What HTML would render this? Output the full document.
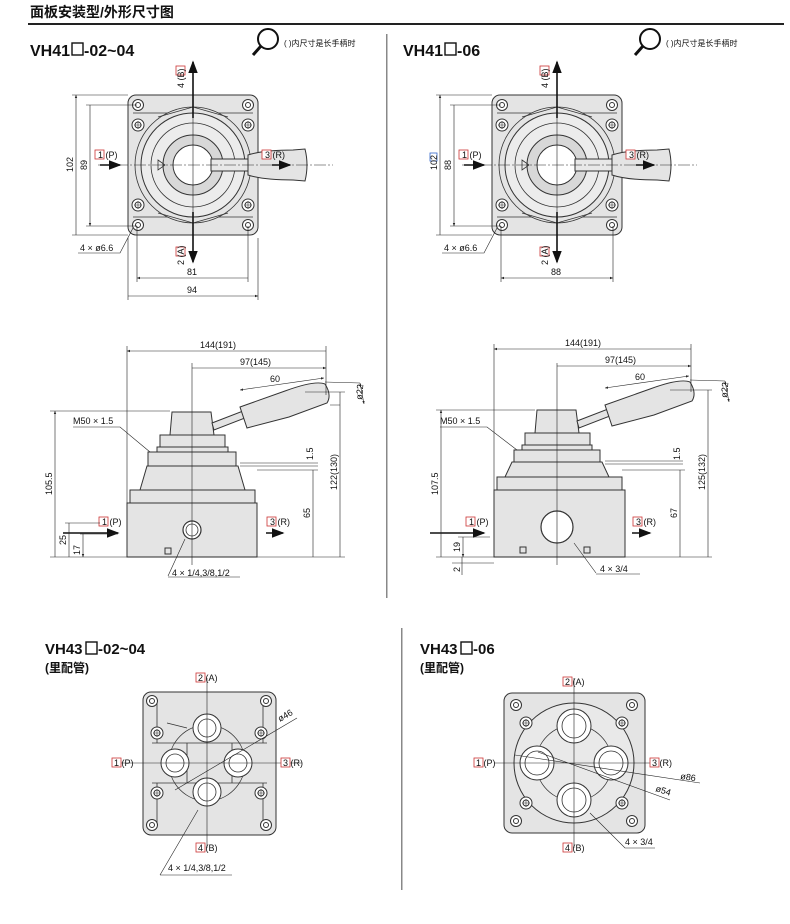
<!DOCTYPE html>
<html><head><meta charset="utf-8"><style>
html,body{margin:0;padding:0;background:#fff}
svg{display:block}
text{font-family:"Liberation Sans","Noto Sans CJK SC",sans-serif;fill:#111}
.b{fill:#e4e4e4;stroke:#333;stroke-width:1}
.l{fill:none;stroke:#333;stroke-width:0.8}
.d{fill:none;stroke:#222;stroke-width:0.6}
.c{fill:none;stroke:#222;stroke-width:0.7}
.s{font-size:9px}
.t{font-size:16px;font-weight:bold}
.bx{fill:#fff;stroke:#c33;stroke-width:0.8}
</style></head><body>
<svg width="790" height="924" viewBox="0 0 790 924" xmlns="http://www.w3.org/2000/svg">
<defs>
<marker id="a" markerWidth="6" markerHeight="6" refX="5" refY="3" orient="auto-start-reverse"><path d="M0,1 L5,3 L0,5z" fill="#222"/></marker>
<marker id="A" markerWidth="8" markerHeight="8" refX="7" refY="4" orient="auto"><path d="M0,1 L8,4 L0,7z" fill="#111"/></marker>
<g id="bolt"><circle r="6" fill="#fff" stroke="#333"/><circle r="3" fill="none" stroke="#333"/><path d="M-4,0H4M0,-4V4" stroke="#333" stroke-width="0.6"/></g>
<g id="hole"><circle r="5.5" fill="#fff" stroke="#333"/><circle r="2.5" fill="none" stroke="#333"/></g>
<g id="top">
 <rect x="-65" y="-70" width="130" height="140" rx="8" class="b"/>
 <path d="M-60,-52 H-25 M25,-52 H60 M-60,52 H-25 M25,52 H60" class="l"/>
 <circle r="58" class="l"/><circle r="52" fill="#ececec" stroke="#333"/>
 <circle r="42" class="l"/><circle r="30" fill="#d8d8d8" stroke="#333"/>
 <circle r="20" fill="#fff" stroke="#333"/>
 <path d="M-35,-48 L0,-58 L35,-48 M-35,48 L0,58 L35,48" class="l"/>
 <use href="#hole" x="-55" y="-60"/><use href="#hole" x="55" y="-60"/><use href="#hole" x="-55" y="60"/><use href="#hole" x="55" y="60"/>
 <use href="#bolt" x="-55" y="-40"/><use href="#bolt" x="55" y="-40"/><use href="#bolt" x="-55" y="40"/><use href="#bolt" x="55" y="40"/>
 <rect x="18" y="-6" width="50" height="12" fill="#e8e8e8" stroke="#333"/>
 <path d="M55,-10 Q70,-15 100,-15 L112,-16 Q116,0 112,16 L100,15 Q70,15 55,10Z" fill="#e4e4e4" stroke="#333"/>
 <path d="M-35,-5 L-28,0 L-35,5Z" class="l"/>
 <path d="M-95,0 H140" class="d" stroke-dasharray="12,2,2,2"/>
 <path d="M0,-100 V95" class="d"/>
</g>
</defs>

<text x="30" y="17" style="font-size:14px;font-weight:bold">面板安装型/外形尺寸图</text>
<rect x="28" y="23" width="756" height="2" fill="#222"/>
<rect x="386" y="34" width="1.5" height="564" fill="#888"/>
<rect x="401" y="628" width="1.5" height="262" fill="#888"/>

<text x="30" y="56" class="t">VH41</text><rect x="72" y="43" width="11" height="12" fill="none" stroke="#111" stroke-width="1.4"/><text x="84" y="56" class="t">-02~04</text>
<text x="403" y="56" class="t">VH41</text><rect x="445" y="43" width="11" height="12" fill="none" stroke="#111" stroke-width="1.4"/><text x="457" y="56" class="t">-06</text>
<text x="45" y="654" class="t" style="font-size:15px">VH43</text><rect x="86" y="642" width="11" height="12" fill="none" stroke="#111" stroke-width="1.4"/><text x="98" y="654" class="t" style="font-size:15px">-02~04</text>
<text x="45" y="672" style="font-size:12px;font-weight:bold">(里配管)</text>
<text x="420" y="654" class="t" style="font-size:15px">VH43</text><rect x="461" y="642" width="11" height="12" fill="none" stroke="#111" stroke-width="1.4"/><text x="473" y="654" class="t" style="font-size:15px">-06</text>
<text x="420" y="672" style="font-size:12px;font-weight:bold">(里配管)</text>

<g><circle cx="268" cy="39" r="10" fill="#fff" stroke="#111" stroke-width="2"/><path d="M261,46 L253,55" stroke="#111" stroke-width="3"/><text x="284" y="46" style="font-size:8px">( )内尺寸是长手柄时</text></g>
<g><circle cx="650" cy="39" r="10" fill="#fff" stroke="#111" stroke-width="2"/><path d="M643,46 L635,55" stroke="#111" stroke-width="3"/><text x="666" y="46" style="font-size:8px">( )内尺寸是长手柄时</text></g>

<use href="#top" x="193" y="165"/>
<path d="M193,118 V62" stroke="#111" stroke-width="1.6" marker-end="url(#A)"/>
<path d="M193,212 V262" stroke="#111" stroke-width="1.6" marker-end="url(#A)"/>
<rect x="176" y="66" width="9" height="9" class="bx"/><text transform="translate(184,88) rotate(-90)" class="s">4 (B)</text>
<rect x="176" y="247" width="9" height="9" class="bx"/><text transform="translate(184,265) rotate(-90)" class="s">2 (A)</text>
<path d="M100,165 H120" stroke="#111" stroke-width="1.6" marker-end="url(#A)"/>
<path d="M272,165 H290" stroke="#111" stroke-width="1.6" marker-end="url(#A)"/>
<rect x="95" y="150" width="9" height="9" class="bx"/><text x="98" y="158" class="s">1 (P)</text>
<rect x="262" y="150" width="9" height="9" class="bx"/><text x="265" y="158" class="s">3 (R)</text>
<path d="M76,95 V235 M90,105 V226" class="d" marker-start="url(#a)" marker-end="url(#a)"/>
<path d="M72,95 H128 M86,105 H137 M72,235 H128 M86,226 H137" class="d"/>
<text transform="translate(73,172) rotate(-90)" class="s">102</text><text transform="translate(87,170) rotate(-90)" class="s">89</text>
<path d="M137,278 H248 M128,296 H258" class="d" marker-start="url(#a)" marker-end="url(#a)"/>
<path d="M137,226 V282 M248,226 V282 M128,238 V300 M258,238 V300" class="d"/>
<text x="187" y="275" class="s">81</text><text x="187" y="293" class="s">94</text>
<path d="M78,253 H120 L133,228" class="d"/><text x="80" y="251" class="s">4 × ø6.6</text>

<use href="#top" x="557" y="165"/>
<path d="M557,118 V62" stroke="#111" stroke-width="1.6" marker-end="url(#A)"/>
<path d="M557,212 V262" stroke="#111" stroke-width="1.6" marker-end="url(#A)"/>
<rect x="540" y="66" width="9" height="9" class="bx"/><text transform="translate(548,88) rotate(-90)" class="s">4 (B)</text>
<rect x="540" y="247" width="9" height="9" class="bx"/><text transform="translate(548,265) rotate(-90)" class="s">2 (A)</text>
<path d="M464,165 H484" stroke="#111" stroke-width="1.6" marker-end="url(#A)"/>
<path d="M636,165 H654" stroke="#111" stroke-width="1.6" marker-end="url(#A)"/>
<rect x="459" y="150" width="9" height="9" class="bx"/><text x="462" y="158" class="s">1 (P)</text>
<rect x="626" y="150" width="9" height="9" class="bx"/><text x="629" y="158" class="s">3 (R)</text>
<path d="M440,95 V235 M454,105 V226" class="d" marker-start="url(#a)" marker-end="url(#a)"/>
<path d="M436,95 H492 M450,105 H501 M436,235 H492 M450,226 H501" class="d"/>
<rect x="430" y="153" width="7" height="8" fill="none" stroke="#36c" stroke-width="0.8"/>
<text transform="translate(437,170) rotate(-90)" class="s">102</text><text transform="translate(451,170) rotate(-90)" class="s">88</text>
<path d="M501,278 H613" class="d" marker-start="url(#a)" marker-end="url(#a)"/>
<path d="M501,226 V282 M613,226 V282" class="d"/>
<text x="551" y="275" class="s">88</text>
<path d="M442,253 H484 L497,228" class="d"/><text x="444" y="251" class="s">4 × ø6.6</text>

<g>
<path d="M127,503 H257 V557 H127Z" class="b"/>
<path d="M130,490 H255 V503 H130Z" class="b"/>
<path d="M140,490 L147,466 H238 L245,490Z" class="b"/>
<path d="M148,452 H236 V466 H148Z" class="b"/>
<path d="M157,447 H228 V452 H157Z" class="b"/>
<path d="M160,435 H225 V447 H160Z" class="b"/>
<path d="M172,412 H211 L214,435 H170Z" class="b"/>
<path d="M212,423 L243,411 L245,418 L214,430Z" class="b"/>
<path d="M240,407 L285,391 Q315,380 325,384 Q332,395 327,403 L289,417 L247,428Z" class="b"/>
<rect x="165" y="548" width="6" height="6" fill="none" stroke="#333"/>
<circle cx="192" cy="530" r="9" fill="#fff" stroke="#333" stroke-width="1.2"/><circle cx="192" cy="530" r="6" class="l"/>
<path d="M192,363 V565" class="d"/>
<path d="M63,533 H118" stroke="#111" stroke-width="1.6" marker-end="url(#A)"/>
<path d="M266,533 H283" stroke="#111" stroke-width="1.6" marker-end="url(#A)"/>
<rect x="99" y="517" width="9" height="9" class="bx"/><text x="102" y="525" class="s">1 (P)</text>
<rect x="267" y="517" width="9" height="9" class="bx"/><text x="270" y="525" class="s">3 (R)</text>
<path d="M127,351 H326 M192,368 H326" class="d" marker-start="url(#a)" marker-end="url(#a)"/>
<path d="M127,346 V503 M326,346 V395" class="d"/>
<text x="200" y="348" class="s">144(191)</text><text x="240" y="365" class="s">97(145)</text>
<path d="M240,390 L324,378" class="d" marker-start="url(#a)" marker-end="url(#a)"/><text x="270" y="382" class="s">60</text>
<path d="M325,382 L360,383 M330,405 L340,405" class="d"/>
<path d="M360,383 L364,404" class="d" marker-start="url(#a)" marker-end="url(#a)"/><text transform="translate(362,400) rotate(-85)" class="s">ø22</text>
<path d="M55,411 V557 M340,392 V557 M313,470 V557 M69,523 V557 M83,534 V557" class="d" marker-start="url(#a)" marker-end="url(#a)"/>
<path d="M50,411 H170 M50,557 H345 M305,392 H345 M257,470 H318 M65,523 H100 M80,534 H118" class="d"/>
<path d="M240,463 H318 M240,466 H318" class="d"/>
<text transform="translate(52,495) rotate(-90)" class="s">105.5</text>
<text transform="translate(337,490) rotate(-90)" class="s">122(130)</text>
<text transform="translate(310,518) rotate(-90)" class="s">65</text>
<text transform="translate(66,545) rotate(-90)" class="s">25</text>
<text transform="translate(80,555) rotate(-90)" class="s">17</text>
<text transform="translate(313,460) rotate(-90)" class="s">1.5</text>
<path d="M73,427 H120 L150,452" class="d"/><text x="73" y="424" class="s">M50 × 1.5</text>
<path d="M168,576 L185,539 M168,577 H240" class="d"/><text x="172" y="576" class="s">4 × 1/4,3/8,1/2</text>
</g>

<g>
<path d="M494,490 H625 V557 H494Z" class="b"/>
<path d="M497,477 H622 V490 H497Z" class="b"/>
<path d="M505,477 L512,462 H602 L609,477Z" class="b"/>
<path d="M514,450 H600 V462 H514Z" class="b"/>
<path d="M522,445 H592 V450 H522Z" class="b"/>
<path d="M525,433 H590 V445 H525Z" class="b"/>
<path d="M537,410 H576 L579,433 H535Z" class="b"/>
<path d="M577,421 L608,409 L610,416 L579,428Z" class="b"/>
<path d="M605,405 L650,389 Q680,378 690,382 Q697,393 692,401 L654,415 L612,426Z" class="b"/>
<rect x="520" y="547" width="6" height="6" fill="none" stroke="#333"/><rect x="584" y="547" width="6" height="6" fill="none" stroke="#333"/>
<circle cx="557" cy="527" r="16" fill="#fff" stroke="#333" stroke-width="1.2"/>
<path d="M557,363 V565" class="d"/>
<path d="M430,533 H484" stroke="#111" stroke-width="1.6" marker-end="url(#A)"/>
<path d="M632,533 H650" stroke="#111" stroke-width="1.6" marker-end="url(#A)"/>
<rect x="466" y="517" width="9" height="9" class="bx"/><text x="469" y="525" class="s">1 (P)</text>
<rect x="633" y="517" width="9" height="9" class="bx"/><text x="636" y="525" class="s">3 (R)</text>
<path d="M494,349 H691 M557,366 H691" class="d" marker-start="url(#a)" marker-end="url(#a)"/>
<path d="M494,344 V490 M691,344 V392" class="d"/>
<text x="565" y="346" class="s">144(191)</text><text x="605" y="363" class="s">97(145)</text>
<path d="M605,388 L689,376" class="d" marker-start="url(#a)" marker-end="url(#a)"/><text x="635" y="380" class="s">60</text>
<path d="M690,380 L725,381" class="d"/>
<path d="M725,381 L729,402" class="d" marker-start="url(#a)" marker-end="url(#a)"/><text transform="translate(727,398) rotate(-85)" class="s">ø22</text>
<path d="M441,410 V557 M708,390 V557 M680,470 V557 M463,537 V557" class="d" marker-start="url(#a)" marker-end="url(#a)"/>
<path d="M436,410 H535 M436,557 H712 M670,390 H712 M622,470 H685 M458,537 H490 M452,563 H494" class="d"/>
<path d="M605,461 H683 M605,464 H683" class="d"/>
<text transform="translate(438,495) rotate(-90)" class="s">107.5</text>
<text transform="translate(705,490) rotate(-90)" class="s">125(132)</text>
<text transform="translate(677,518) rotate(-90)" class="s">67</text>
<text transform="translate(460,552) rotate(-90)" class="s">19</text>
<text transform="translate(460,572) rotate(-90)" class="s">2</text>
<path d="M462,570 V557 M462,563 V575" class="d"/>
<text transform="translate(680,460) rotate(-90)" class="s">1.5</text>
<path d="M440,427 H487 L517,450" class="d"/><text x="440" y="424" class="s">M50 × 1.5</text>
<path d="M596,573 L574,543 M596,574 H640" class="d"/><text x="600" y="572" class="s">4 × 3/4</text>
</g>

<g transform="translate(207,763)">
<rect x="-64" y="-71" width="133" height="143" rx="8" class="b"/>
<path d="M-50,-60 V-20 H-20 V20 H-50 V60 M-40,-40 L-20,-35 M56,-60 V-20 H25 V20 H56 V60 M-55,-20 H60 M-55,20 H60" class="l"/>
<circle r="38" class="l"/>
<g fill="#fff" stroke="#333"><circle cx="0" cy="-35" r="14"/><circle cx="0" cy="29" r="14"/><circle cx="-32" cy="0" r="14"/><circle cx="31" cy="0" r="14"/></g>
<g class="l"><circle cx="0" cy="-35" r="9"/><circle cx="0" cy="29" r="9"/><circle cx="-32" cy="0" r="9"/><circle cx="31" cy="0" r="9"/></g>
<use href="#hole" x="-55" y="-62"/><use href="#hole" x="59" y="-62"/><use href="#hole" x="-55" y="62"/><use href="#hole" x="59" y="62"/>
<use href="#bolt" x="-50" y="-30"/><use href="#bolt" x="54" y="-30"/><use href="#bolt" x="-50" y="30"/><use href="#bolt" x="54" y="30"/>
<path d="M0,-85 V85 M-95,0 H95" class="d"/>
</g>
<rect x="196" y="673" width="9" height="9" class="bx"/><text x="198" y="681" class="s">2 (A)</text>
<rect x="112" y="758" width="9" height="9" class="bx"/><text x="114" y="766" class="s">1 (P)</text>
<rect x="281" y="758" width="9" height="9" class="bx"/><text x="283" y="766" class="s">3 (R)</text>
<rect x="196" y="843" width="9" height="9" class="bx"/><text x="198" y="851" class="s">4 (B)</text>
<path d="M175,790 L297,718" class="d"/><text transform="translate(280,722) rotate(-30)" class="s">ø46</text>
<path d="M160,875 L198,810 M160,875 H232" class="d"/><text x="168" y="871" class="s">4 × 1/4,3/8,1/2</text>

<g transform="translate(574,763)">
<rect x="-70" y="-70" width="141" height="140" rx="8" class="b"/>
<circle r="60" fill="#e9e9e9" stroke="#333"/>
<circle r="38" class="l"/>
<g fill="#fff" stroke="#333"><circle cx="0" cy="-37" r="17"/><circle cx="0" cy="37" r="17"/><circle cx="-37" cy="0" r="17"/><circle cx="37" cy="0" r="17"/></g>
<g class="l"><circle cx="0" cy="-37" r="12"/><circle cx="0" cy="37" r="12"/><circle cx="-37" cy="0" r="12"/><circle cx="37" cy="0" r="12"/></g>
<use href="#hole" x="-58" y="-58"/><use href="#hole" x="58" y="-58"/><use href="#hole" x="-58" y="58"/><use href="#hole" x="58" y="58"/>
<use href="#bolt" x="-48" y="-40"/><use href="#bolt" x="48" y="-40"/><use href="#bolt" x="-48" y="40"/><use href="#bolt" x="48" y="40"/>
<path d="M-80,0 H80 M0,-85 V85" class="d"/>
</g>
<rect x="563" y="677" width="9" height="9" class="bx"/><text x="565" y="685" class="s">2 (A)</text>
<rect x="474" y="758" width="9" height="9" class="bx"/><text x="476" y="766" class="s">1 (P)</text>
<rect x="650" y="758" width="9" height="9" class="bx"/><text x="652" y="766" class="s">3 (R)</text>
<rect x="563" y="843" width="9" height="9" class="bx"/><text x="565" y="851" class="s">4 (B)</text>
<path d="M515,755 L700,783 M538,752 L670,800" class="d"/>
<text x="680" y="779" class="s" transform="rotate(8,680,779)">ø86</text>
<text x="655" y="791" class="s" transform="rotate(18,655,791)">ø54</text>
<path d="M590,813 L625,848 H655" class="d"/><text x="625" y="845" class="s">4 × 3/4</text>
</svg>
</body></html>
